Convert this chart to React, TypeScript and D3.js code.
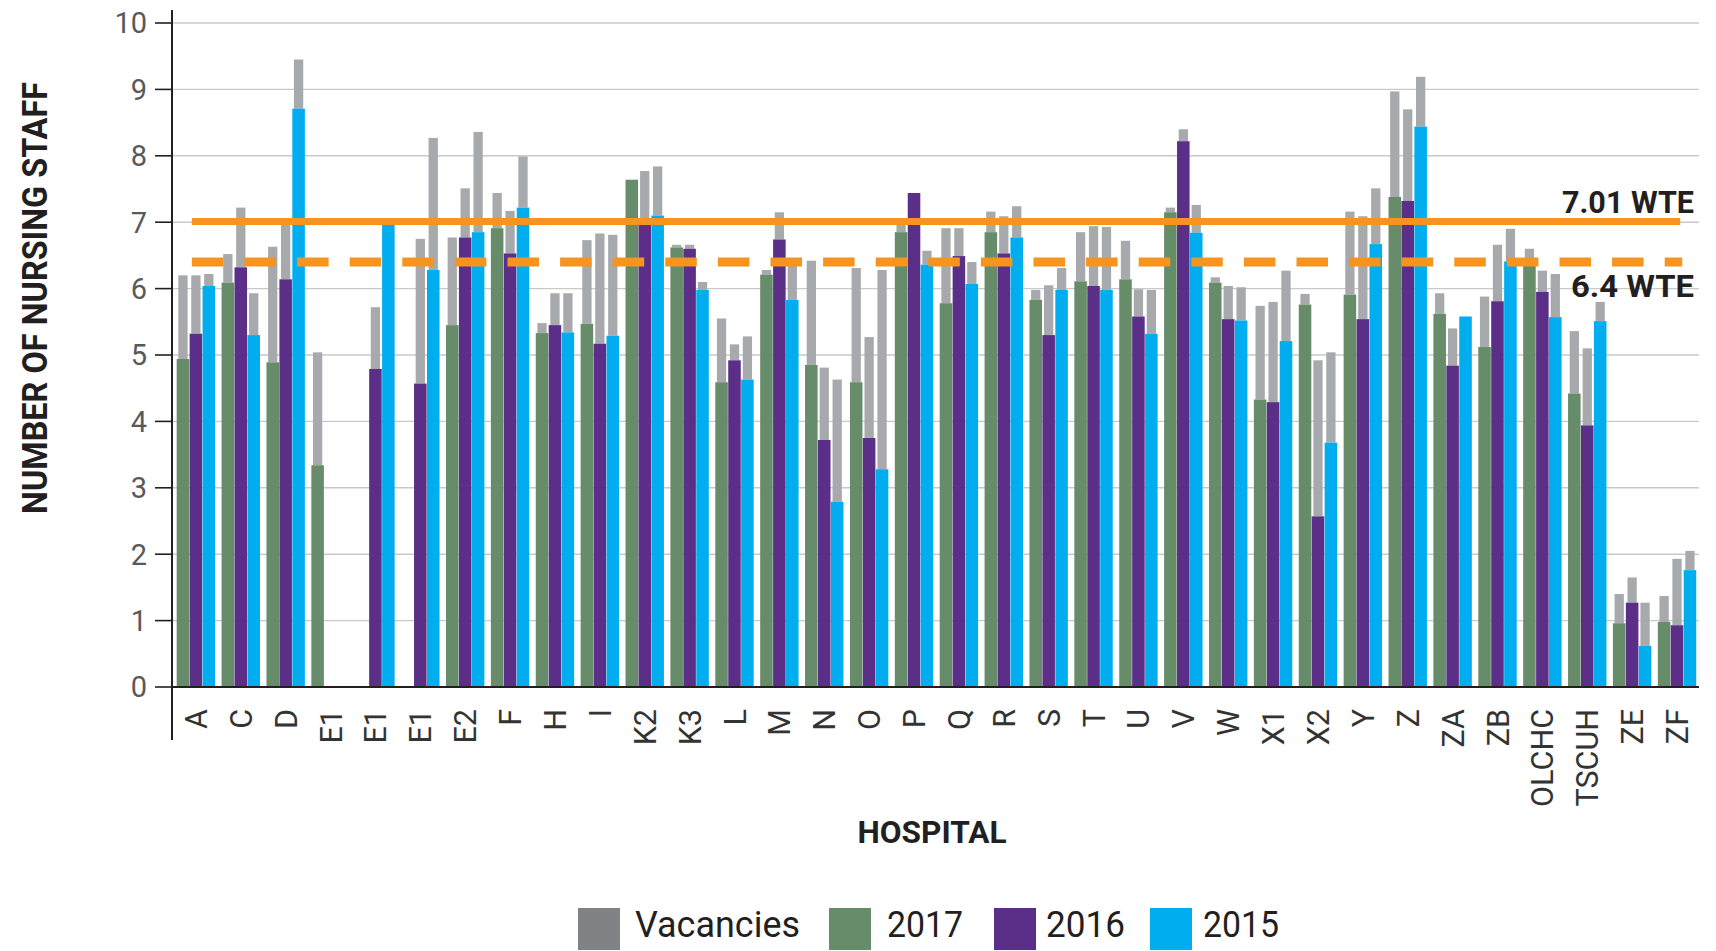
import React from "react";
import * as d3 from "d3";

// ---------- DATA ----------
const hospitals = ["A","C","D","E1","E1","E1","E2","F","H","I","K2","K3","L","M","N","O","P","Q","R","S","T","U","V","W","X1","X2","Y","Z","ZA","ZB","OLCHC","TSCUH","ZE","ZF"];

const staff2017 = [4.94,6.09,4.89,3.34,null,null,5.45,6.91,5.33,5.47,7.64,6.62,4.59,6.21,4.85,4.59,6.85,5.78,6.85,5.83,6.11,6.14,7.15,6.09,4.33,5.76,5.91,7.38,5.62,5.12,6.35,4.42,0.96,0.98];
const vac2017   = [1.26,0.43,1.74,1.70,null,null,1.32,0.53,0.15,1.26,0.00,0.04,0.96,0.07,1.57,1.72,0.13,1.13,0.31,0.15,0.74,0.58,0.07,0.08,1.41,0.16,1.25,1.59,0.31,0.76,0.25,0.94,0.44,0.39];

const staff2016 = [5.32,6.32,6.14,null,4.79,4.57,6.77,6.53,5.45,5.17,7.02,6.60,4.92,6.74,3.72,3.75,7.44,6.49,6.53,5.30,6.04,5.58,8.22,5.54,4.29,2.57,5.54,7.32,4.84,5.81,5.95,3.94,1.27,0.93];
const vac2016   = [0.88,0.90,0.85,null,0.93,2.18,0.74,0.64,0.48,1.66,0.75,0.06,0.24,0.41,1.09,1.52,0.00,0.42,0.56,0.75,0.90,0.41,0.18,0.50,1.51,2.35,1.55,1.38,0.56,0.85,0.32,1.16,0.38,1.00];

const staff2015 = [6.04,5.30,8.71,null,6.97,6.28,6.85,7.22,5.34,5.29,7.10,5.98,4.63,5.83,2.79,3.28,6.36,6.07,6.77,5.98,5.98,5.32,6.84,5.52,5.21,3.68,6.67,8.44,5.58,6.41,5.57,5.51,0.62,1.76];
const vac2015   = [0.18,0.63,0.74,null,0.00,1.99,1.51,0.77,0.59,1.52,0.74,0.12,0.65,0.55,1.84,3.00,0.21,0.33,0.47,0.33,0.95,0.66,0.42,0.50,1.06,1.36,0.84,0.75,0.00,0.49,0.65,0.29,0.65,0.29];

const yTicks = [0,1,2,3,4,5,6,7,8,9,10];
const refSolid = 7.01;
const refDashed = 6.4;
const refSolidLabel = "7.01 WTE";
const refDashedLabel = "6.4 WTE";

const seriesKeys = ["2017","2016","2015"];
const legendLabels = ["Vacancies","2017","2016","2015"];

// ---------- STYLE ----------
const COLORS: Record<string,string> = { "2017": "#678c6a", "2016": "#5b2f87", "2015": "#00aeef" };
const VAC_COLOR = "#a7a9ac";
const VAC_LEGEND = "#808285";
const ORANGE = "#f7941d";
const TEXT = "#231f20";
const FONT = "Roboto, 'Open Sans', sans-serif";

export default function App() {
  const W = 1716, H = 951;
  const n = hospitals.length;
  const x0 = d3.scaleBand<number>().domain(d3.range(n)).range([173.5, 1699.5]).padding(0);
  const x1 = d3.scaleBand<string>().domain(seriesKeys).range([3.2, 41.6]).paddingInner(0.03);
  const y = d3.scaleLinear().domain([0, 10]).range([687, 23]);

  const staff: Record<string,(number|null)[]> = { "2017": staff2017, "2016": staff2016, "2015": staff2015 };
  const vac: Record<string,(number|null)[]> = { "2017": vac2017, "2016": vac2016, "2015": vac2015 };

  const bw = x1.bandwidth();
  const vw = bw * 0.74;
  const axisX = 172;
  const plotRight = 1699;

  const lineStart = x0(0)! + x0.bandwidth() * 0.41;
  const lineEnd = x0(n - 1)! + x0.bandwidth() * 0.57;

  const legendItems = [
    { label: legendLabels[0], color: VAC_LEGEND, sx: 578, tx: 635, tw: 165 },
    { label: legendLabels[1], color: COLORS["2017"], sx: 829, tx: 887, tw: 76 },
    { label: legendLabels[2], color: COLORS["2016"], sx: 994, tx: 1046, tw: 79 },
    { label: legendLabels[3], color: COLORS["2015"], sx: 1150, tx: 1203, tw: 76 },
  ];

  return (
    <svg width={W} height={H} style={{ position: "absolute", left: 0, top: 0, background: "#fff" }} fontFamily={FONT}>
      <rect width={W} height={H} fill="#fff" />
      {/* gridlines */}
      {yTicks.map((t) => (
        <line key={"g" + t} x1={axisX} x2={plotRight} y1={y(t)} y2={y(t)} stroke="#c9c9c9" strokeWidth={1.4} />
      ))}
      {/* bars */}
      {hospitals.map((h, i) => (
        <g key={"grp" + i} transform={`translate(${x0(i)},0)`}>
          {seriesKeys.map((k) => {
            const s = staff[k][i];
            if (s == null) return null;
            const v = vac[k][i] || 0;
            const bx = x1(k)!;
            return (
              <g key={k}>
                {v > 0 && (
                  <rect x={bx + (bw - vw) / 2} width={vw} y={y(s + v)} height={y(s) - y(s + v)} fill={VAC_COLOR} />
                )}
                <rect x={bx} width={bw} y={y(s)} height={y(0) - y(s)} fill={COLORS[k]} />
              </g>
            );
          })}
        </g>
      ))}
      {/* reference lines */}
      <line x1={lineStart} x2={lineEnd} y1={y(refSolid)} y2={y(refSolid)} stroke={ORANGE} strokeWidth={7} />
      <line x1={lineStart} x2={lineEnd + 2} y1={y(refDashed)} y2={y(refDashed)} stroke={ORANGE} strokeWidth={9} strokeDasharray="31.5 21.1" />
      <text x={1694} y={y(refSolid) - 9} textAnchor="end" fontSize={31} fontWeight={700} fill={TEXT} textLength={132} lengthAdjust="spacingAndGlyphs">{refSolidLabel}</text>
      <text x={1694} y={y(refDashed) + 35} textAnchor="end" fontSize={31} fontWeight={700} fill={TEXT} textLength={123} lengthAdjust="spacingAndGlyphs">{refDashedLabel}</text>
      {/* axes */}
      <line x1={axisX} x2={axisX} y1={10} y2={740} stroke={TEXT} strokeWidth={2} />
      <line x1={axisX} x2={plotRight} y1={y(0)} y2={y(0)} stroke={TEXT} strokeWidth={2} />
      {yTicks.map((t) => (
        <g key={"t" + t}>
          <line x1={155} x2={axisX} y1={y(t)} y2={y(t)} stroke={TEXT} strokeWidth={1.6} />
          <text x={147} y={y(t)} dy="0.36em" textAnchor="end" fontSize={29} fill="#58595b">{t}</text>
        </g>
      ))}
      {hospitals.map((h, i) => (
        <text key={"xl" + i} transform={`translate(${x0(i)! + x0.bandwidth() / 2},709) rotate(-90)`} dy="0.36em" textAnchor="end" fontSize={30.5} fill="#333">{h}</text>
      ))}
      {/* axis titles */}
      <text transform={`translate(47,298) rotate(-90)`} textAnchor="middle" fontSize={35} fontWeight={700} fill={TEXT} textLength={432} lengthAdjust="spacingAndGlyphs">NUMBER OF NURSING STAFF</text>
      <text x={932} y={843} textAnchor="middle" fontSize={31} fontWeight={700} fill={TEXT} textLength={149} lengthAdjust="spacingAndGlyphs">HOSPITAL</text>
      {/* legend */}
      {legendItems.map((it) => (
        <g key={it.label}>
          <rect x={it.sx} y={908} width={42} height={42} fill={it.color} />
          <text x={it.tx} y={937} fontSize={36} fill={TEXT} textLength={it.tw} lengthAdjust="spacingAndGlyphs">{it.label}</text>
        </g>
      ))}
    </svg>
  );
}
